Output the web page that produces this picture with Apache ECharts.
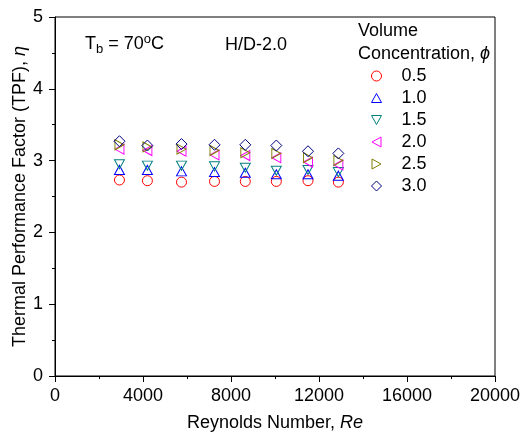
<!DOCTYPE html>
<html><head><meta charset="utf-8">
<script src="https://cdn.jsdelivr.net/npm/echarts@6/dist/echarts.min.js"></script>
<style>html,body{margin:0;padding:0;background:#fff}#c{width:521px;height:434px}</style>
</head><body><div id="c"></div>
<script>
var reynolds = [2930, 4200, 5750, 7250, 8650, 10060, 11500, 12880];
var phiLabels = ['0.5', '1.0', '1.5', '2.0', '2.5', '3.0'];
var tpf05 = [2.73, 2.72, 2.70, 2.71, 2.71, 2.71, 2.72, 2.70];
var tpf10 = [2.87, 2.87, 2.85, 2.84, 2.83, 2.81, 2.81, 2.79];
var tpf15 = [2.95, 2.93, 2.93, 2.92, 2.90, 2.86, 2.87, 2.84];
var tpf20 = [3.16, 3.14, 3.13, 3.08, 3.07, 3.04, 2.98, 2.94];
var tpf25 = [3.22, 3.19, 3.16, 3.14, 3.11, 3.10, 3.04, 3.00];
var tpf30 = [3.27, 3.21, 3.23, 3.22, 3.22, 3.21, 3.13, 3.10];
var seriesValues = [tpf05, tpf10, tpf15, tpf20, tpf25, tpf30];
var markerPaths = [
  'circle',
  'path://M5,0 L10,9 L0,9 Z',
  'path://M0,0 L10,0 L5,9 Z',
  'path://M0,5 L9,0 L9,10 Z',
  'path://M0,0 L9,5 L0,10 Z',
  'path://M5,0 L10,5 L5,10 L0,5 Z'
];
var colors = ['#ff0000', '#0000ff', '#008080', '#ff00ff', '#808000', '#000080'];
var sizes = [10, [10, 9], [10, 9], [9, 10], [9, 10], 11];

var chart = echarts.init(document.getElementById('c'));
var font = 'Liberation Sans, Arial, sans-serif';
var FS = 18;
var series = seriesValues.map(function (vals, i) {
  return {
    name: phiLabels[i],
    type: 'scatter',
    symbol: markerPaths[i],
    symbolSize: sizes[i],
    itemStyle: { color: 'rgba(255,255,255,0)', borderColor: colors[i], borderWidth: 1, opacity: 1 },
    data: vals.map(function (v, j) { return [reynolds[j], v]; })
  };
});
chart.setOption({
  animation: false,
  backgroundColor: '#fff',
  textStyle: { fontFamily: font },
  grid: { left: 55, right: 26, top: 17, bottom: 58, show: true, borderColor: '#000', borderWidth: 1, containLabel: false, outerBoundsMode: 'none' },
  xAxis: {
    type: 'value', min: 0, max: 20000, interval: 4000,
    axisLine: { lineStyle: { color: '#000', width: 1 } },
    axisTick: { show: true, inside: false, length: 6, lineStyle: { color: '#000' } },
    minorTick: { show: true, splitNumber: 2, length: 3, lineStyle: { color: '#000' } },
    splitLine: { show: false },
    axisLabel: { color: '#000', fontSize: FS, margin: 11, fontFamily: font, formatter: function (v) { return String(v); } },
    name: '{a|Reynolds Number, }{b|Re}',
    nameLocation: 'middle', nameGap: 38, nameMoveOverlap: false,
    nameTextStyle: { rich: { a: { fontSize: FS, color: '#000', fontFamily: font }, b: { fontSize: FS, color: '#000', fontStyle: 'italic', fontFamily: font } } }
  },
  yAxis: {
    type: 'value', min: 0, max: 5, interval: 1,
    axisLine: { show: true, lineStyle: { color: '#000', width: 1 } },
    axisTick: { show: true, inside: false, length: 6, lineStyle: { color: '#000' } },
    minorTick: { show: true, splitNumber: 2, length: 3, lineStyle: { color: '#000' } },
    splitLine: { show: false },
    axisLabel: { color: '#000', fontSize: FS, margin: 12, fontFamily: font },
    name: '{a|Thermal Performance Factor (TPF), }{b|η}',
    nameLocation: 'middle', nameGap: 26, nameMoveOverlap: false,
    nameTextStyle: { rich: { a: { fontSize: FS, color: '#000', fontFamily: font }, b: { fontSize: FS, color: '#000', fontStyle: 'italic', fontFamily: font } } }
  },
  legend: {
    orient: 'vertical', left: 366, top: 62,
    itemWidth: 10, itemHeight: 10, itemGap: 4,
    textStyle: { fontSize: FS, color: '#000', fontFamily: font, padding: [0, 0, 0, 15] },
    data: phiLabels.map(function (n, i) {
      return { name: n, icon: markerPaths[i], itemStyle: { color: '#fff', borderColor: colors[i], borderWidth: 1 } };
    })
  },
  graphic: [
    { type: 'text', left: 358, top: 22, style: { text: 'Volume', font: FS + 'px ' + font, fill: '#000' } },
    { type: 'text', left: 358, top: 45, style: { text: '{a|Concentration, }{b|ϕ}', fill: '#000',
      rich: { a: { fontSize: FS, fontFamily: font }, b: { fontSize: FS, fontStyle: 'italic', fontFamily: font } } } },
    { type: 'text', left: 85, top: 33, style: { text: '{a|T}{s|b}{a| = 70}{p|o}{a|C}', fill: '#000',
      rich: { a: { fontSize: FS, fontFamily: font }, s: { fontSize: 13, fontFamily: font, padding: [10, 0, 0, 0] }, p: { fontSize: 13, fontFamily: font, padding: [0, 0, 9, 0] } } } },
    { type: 'text', left: 225, top: 36, style: { text: 'H/D-2.0', font: FS + 'px ' + font, fill: '#000' } }
  ],
  series: series
});
</script></body></html>
